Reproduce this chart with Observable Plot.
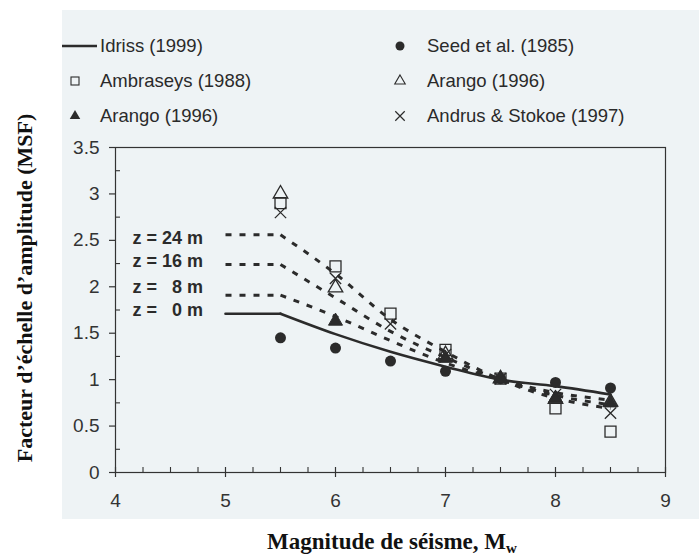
<!DOCTYPE html>
<html><head><meta charset="utf-8">
<script src="https://cdn.jsdelivr.net/npm/d3@7"></script>
<script src="https://cdn.jsdelivr.net/npm/@observablehq/plot@0.6"></script>
<style>
body{margin:0;background:#fff}
#wrap{position:relative;width:699px;height:555px;overflow:hidden;background:#fff}
#panel{position:absolute;left:62px;top:10px;width:637px;height:509px;background:#eef3f5}
#chart{position:absolute;left:0;top:0}
.lg{position:absolute;font:18.5px "Liberation Sans",Arial,sans-serif;color:#2a2a2a;line-height:1;transform:translateY(-50%);white-space:nowrap}
.sym{position:absolute;overflow:visible}
#ytitle{position:absolute;left:25px;top:288px;transform:translate(-50%,-50%) rotate(-90deg);font:bold 22px "Liberation Serif","Times New Roman",serif;white-space:nowrap;color:#111;line-height:1}
#xtitle{position:absolute;left:392px;top:541px;transform:translate(-50%,-50%);font:bold 23px "Liberation Serif","Times New Roman",serif;white-space:nowrap;color:#111;line-height:1}
#xtitle sub{font-size:15px;vertical-align:-4px;line-height:0}
</style>
</head><body>
<div id="wrap">
  <div id="panel"></div>
  <div id="chart"></div>
  <div id="legend"></div>
  <div id="ytitle">Facteur d’échelle d’amplitude (MSF)</div>
  <div id="xtitle">Magnitude de séisme, M<sub>w</sub></div>
</div>
<script>
// ---- data ----
const xTicks = [4, 5, 6, 7, 8, 9];
const xMinor = [4.25, 4.5, 4.75, 5.25, 5.5, 5.75, 6.25, 6.5, 6.75, 7.25, 7.5, 7.75, 8.25, 8.5, 8.75];
const yTicks = [0, 0.5, 1, 1.5, 2, 2.5, 3, 3.5];
const yMinor = [0.25, 0.75, 1.25, 1.75, 2.25, 2.75, 3.25];

const magIdriss = [5, 5.5, 6, 6.5, 7, 7.5, 8, 8.5];
const msfIdriss = [1.71, 1.71, 1.49, 1.30, 1.14, 1.00, 0.93, 0.84];

const magDepth = [5, 5.5, 6, 6.5, 7, 7.5, 8, 8.5];
const msfZ8  = [1.91, 1.91, 1.68, 1.42, 1.18, 1.00, 0.86, 0.78];
const msfZ16 = [2.24, 2.24, 1.88, 1.52, 1.24, 1.00, 0.83, 0.73];
const msfZ24 = [2.56, 2.56, 2.14, 1.65, 1.30, 1.00, 0.80, 0.69];

const zLabels = ["z = 24 m", "z = 16 m", "z =   8 m", "z =   0 m"];
const zLabelY = [2.52, 2.27, 2.00, 1.75];

const magSeed = [5.5, 6, 6.5, 7, 7.5, 8, 8.5];
const msfSeed = [1.45, 1.34, 1.20, 1.09, 1.01, 0.97, 0.91];

const magAmbr = [5.5, 6, 6.5, 7, 7.5, 8, 8.5];
const msfAmbr = [2.90, 2.22, 1.71, 1.32, 1.01, 0.69, 0.44];

const magArangoOpen = [5.5, 6, 7, 7.5, 8, 8.5];
const msfArangoOpen = [3.00, 1.99, 1.27, 1.01, 0.79, 0.76];

const magArangoFill = [6, 7, 7.5, 8, 8.5];
const msfArangoFill = [1.63, 1.23, 1.01, 0.80, 0.75];

const magAndrus = [5.5, 6, 6.5, 7, 7.5, 8, 8.5];
const msfAndrus = [2.80, 2.09, 1.60, 1.27, 1.01, 0.84, 0.64];

const legendLabels = ["Idriss (1999)", "Ambraseys (1988)", "Arango (1996)", "Seed et al. (1985)", "Arango (1996)", "Andrus & Stokoe (1997)"];

// ---- build ----
const ink = "#2b2b2b";
const pts = (ms, vs) => ms.map((m, i) => ({m, v: vs[i]}));
const idriss = pts(magIdriss, msfIdriss);
const depth = [["8", msfZ8], ["16", msfZ16], ["24", msfZ24]]
  .flatMap(([z, vs]) => magDepth.map((m, i) => ({z, m, v: vs[i]})));
const flatEnd = magIdriss[1];
const zText = zLabels.map((t, i) => ({t: t.replace(/ /g, "\u00a0"), v: zLabelY[i]}));

const font = '"Liberation Sans", Arial, sans-serif';
const dash = {stroke: ink, strokeWidth: 3, strokeDasharray: "6,8", strokeLinecap: "butt"};

const chart = Plot.plot({
  width: 699, height: 555,
  marginLeft: 115, marginRight: 34, marginTop: 147, marginBottom: 83,
  style: {background: "transparent", overflow: "visible", fontFamily: font},
  x: {domain: [4, 9]},
  y: {domain: [0, 3.5]},
  marks: [
    Plot.frame({stroke: "#333", strokeWidth: 1.2}),
    Plot.ruleX(xTicks, {x: d => d, y1: 0, y2: 0, insetTop: -5, insetBottom: -5, stroke: "#333", strokeWidth: 1.2}),
    Plot.ruleX(xMinor, {x: d => d, y1: 0, y2: 0, insetTop: -5, insetBottom: 0, stroke: "#333", strokeWidth: 1.1}),
    Plot.ruleY(yTicks, {y: d => d, x1: 4, x2: 4, insetLeft: -6, insetRight: 0, stroke: "#333", strokeWidth: 1.2}),
    Plot.ruleY(yMinor, {y: d => d, x1: 4, x2: 4, insetLeft: 0, insetRight: -5, stroke: "#333", strokeWidth: 1.1}),
    Plot.axisX({ticks: xTicks, tickSize: 0, tickPadding: 21, fontSize: 19, color: "#333", label: null, tickFormat: d => String(d), fontFamily: font}),
    Plot.axisY({ticks: yTicks, tickSize: 0, tickPadding: 16, fontSize: 19, color: "#333", label: null, tickFormat: d => String(d), fontFamily: font}),
    // depth curves (dashed)
    Plot.line(depth.filter(d => d.m <= flatEnd), {x: "m", y: "v", z: "z", ...dash}),
    Plot.line(depth.filter(d => d.m >= flatEnd), {x: "m", y: "v", z: "z", ...dash, curve: "monotone-x"}),
    // Idriss
    Plot.line(idriss.filter(d => d.m <= flatEnd), {x: "m", y: "v", stroke: ink, strokeWidth: 2.6}),
    Plot.line(idriss.filter(d => d.m >= flatEnd), {x: "m", y: "v", stroke: ink, strokeWidth: 2.6, curve: "monotone-x"}),
    // z labels
    Plot.text(zText, {x: 4, y: "v", text: "t", dx: 17, textAnchor: "start", fontWeight: "bold", fontSize: 18, fill: ink, fontFamily: font}),
    // points
    Plot.dot(pts(magSeed, msfSeed), {x: "m", y: "v", r: 5.5, fill: ink, symbol: "circle"}),
    Plot.dot(pts(magAmbr, msfAmbr), {x: "m", y: "v", r: 6.2, symbol: "square", fill: "none", stroke: ink, strokeWidth: 1.3}),
    Plot.dot(pts(magArangoOpen, msfArangoOpen), {x: "m", y: "v", r: 5.4, symbol: "triangle", fill: "none", stroke: ink, strokeWidth: 1.3}),
    Plot.dot(pts(magArangoFill, msfArangoFill), {x: "m", y: "v", r: 5.2, symbol: "triangle", fill: ink, stroke: ink, strokeWidth: 1}),
    Plot.dot(pts(magAndrus, msfAndrus), {x: "m", y: "v", r: 5.2, symbol: "times", stroke: ink, strokeWidth: 1.3})
  ]
});
document.getElementById("chart").appendChild(chart);

// ---- legend ----
const legend = document.getElementById("legend");
const rows = [46, 81, 116];
const cols = [{sym: 75, text: 100}, {sym: 400, text: 427}];
const kinds = ["line", "square", "triFill", "circle", "triOpen", "times"];
legendLabels.forEach((label, i) => {
  const col = cols[Math.floor(i / 3)], cy = rows[i % 3], kind = kinds[i];
  const t = document.createElement("div");
  t.className = "lg";
  t.style.left = col.text + "px";
  t.style.top = cy + "px";
  t.textContent = label;
  legend.appendChild(t);
  const svg = d3.create("svg").attr("class", "sym");
  if (kind === "line") {
    svg.attr("width", 36).attr("height", 6).style("left", "62px").style("top", (cy - 3) + "px");
    svg.append("line").attr("x1", 0).attr("x2", 35).attr("y1", 3).attr("y2", 3).attr("stroke", ink).attr("stroke-width", 2.4);
  } else {
    svg.attr("width", 20).attr("height", 20).style("left", (col.sym - 10) + "px").style("top", (cy - 10) + "px");
    const g = svg.append("g").attr("transform", "translate(10,10)");
    if (kind === "square") g.append("rect").attr("x", -4).attr("y", -4).attr("width", 8).attr("height", 8).attr("fill", "none").attr("stroke", ink).attr("stroke-width", 1.1);
    if (kind === "circle") g.append("circle").attr("r", 4.5).attr("fill", ink);
    if (kind === "triFill") g.append("path").attr("d", d3.symbol(d3.symbolTriangle, 48)()).attr("fill", ink);
    if (kind === "triOpen") g.append("path").attr("d", d3.symbol(d3.symbolTriangle, 48)()).attr("fill", "none").attr("stroke", ink).attr("stroke-width", 1.1);
    if (kind === "times") g.append("path").attr("d", d3.symbol(d3.symbolTimes, 60)()).attr("fill", "none").attr("stroke", ink).attr("stroke-width", 1.2);
  }
  legend.appendChild(svg.node());
});
</script>
</body></html>
